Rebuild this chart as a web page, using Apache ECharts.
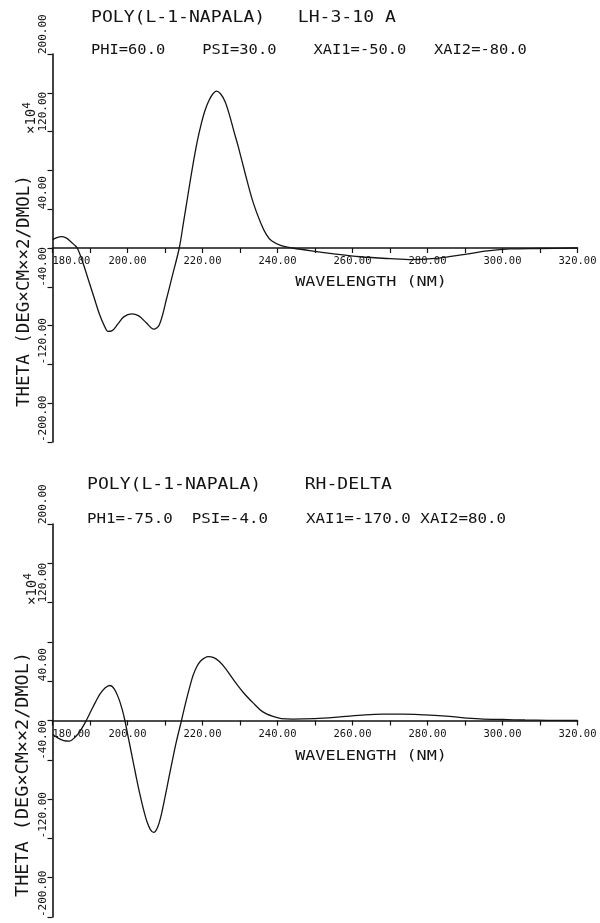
<!DOCTYPE html>
<html>
<head>
<meta charset="utf-8">
<script src="https://cdn.jsdelivr.net/npm/echarts@6/dist/echarts.min.js"></script>
<style>
  html, body { margin: 0; padding: 0; background: #ffffff; }
  #chart { width: 600px; height: 923px; }
</style>
</head>
<body>
<div id="chart"></div>
<script>
// Computed CD spectra, mean residue ellipticity (x10^4) against wavelength (nm)

// Upper panel: left-handed 3-10 helix
const upperWavelength = [180.0, 181.2, 182.4, 183.6, 184.6, 185.6, 186.6, 188.0, 189.5, 191.0,
  192.5, 193.8, 194.8, 195.8, 197.5, 199.0, 201.1, 203.0, 205.0, 207.0,
  208.5, 210.4, 212.0, 213.8, 215.0, 216.3, 217.5, 218.6, 219.6, 220.6,
  221.6, 222.6, 223.7, 224.8, 226.0, 227.2, 228.4, 229.5, 231.5, 233.5,
  235.5, 237.0, 238.4, 241.0, 244.0, 249.0, 255.0, 262.0, 270.0, 276.0,
  283.0, 290.0, 296.0, 302.0, 310.0, 320.0];
const upperTheta = [8.5, 10.8, 11.7, 10.5, 7.6, 4.0, 0.0, -14.0, -32.0, -50.0,
  -68.0, -80.0, -86.0, -85.5, -78.0, -71.0, -68.0, -70.0, -77.0, -83.6,
  -79.0, -52.6, -28.0, 0.0, 28.0, 59.0, 87.0, 110.0, 127.0, 141.0,
  151.0, 158.0, 161.7, 159.0, 151.0, 137.0, 120.0, 105.0, 75.0, 47.0,
  26.0, 14.0, 7.5, 2.5, 0.0, -3.0, -6.0, -9.0, -11.0, -12.0,
  -10.5, -6.5, -3.0, -1.0, -0.5, 0.0];

// Lower panel: right-handed delta structure
const lowerWavelength = [180.0, 181.5, 183.0, 184.5, 186.0, 187.5, 189.0, 190.3, 191.5, 192.7,
  194.0, 195.3, 196.5, 197.7, 198.6, 199.3, 200.3, 201.3, 202.3, 203.3,
  204.3, 205.2, 206.1, 207.0, 208.0, 209.0, 210.0, 211.0, 212.0, 213.0,
  214.4, 215.5, 216.8, 217.5, 218.5, 219.5, 220.5, 221.5, 223.0, 224.5,
  226.0, 228.2, 231.0, 233.5, 236.0, 238.8, 241.0, 244.0, 250.0, 256.0,
  263.4, 268.0, 273.6, 279.0, 283.9, 289.0, 294.0, 300.0, 306.0, 312.0,
  320.0];
const lowerTheta = [-14.0, -18.0, -20.5, -21.0, -17.0, -10.0, 0.0, 10.0, 19.0, 27.0,
  33.0, 35.6, 32.0, 22.0, 11.0, 0.0, -19.0, -38.0, -57.0, -75.0,
  -91.0, -103.0, -111.0, -113.9, -109.0, -96.0, -78.0, -59.0, -40.0, -22.0,
  0.0, 18.0, 37.0, 46.0, 55.0, 60.5, 63.5, 65.0, 64.0, 60.0,
  53.5, 41.8, 28.0, 17.9, 9.0, 4.1, 2.0, 1.5, 2.0, 3.5,
  5.8, 6.5, 6.5, 5.8, 4.8, 3.0, 1.7, 1.0, 0.5, 0.2,
  0.0];

// Axis ranges and tick steps
const wavelengthRange = [180, 320];
const wavelengthStep = 10;
const wavelengthLabelStep = 20;
const thetaRange = [-200, 200];
const thetaStep = 40;
const thetaLabelStep = 80;

// Panel headings and axis titles
const upperTitle = 'POLY(L-1-NAPALA)   LH-3-10 A';
const upperParams = 'PHI=60.0    PSI=30.0    XAI1=-50.0   XAI2=-80.0';
const lowerTitle = 'POLY(L-1-NAPALA)    RH-DELTA';
const lowerParams = 'PH1=-75.0  PSI=-4.0    XAI1=-170.0 XAI2=80.0';
const thetaName = 'THETA (DEG\u00d7CM\u00d7\u00d72/DMOL)';
const wavelengthName = 'WAVELENGTH (NM)';

const INK = '#141414';
const MONO = '"DejaVu Sans Mono", "Liberation Mono", monospace';

const grids = [
  { left: 52.5, top: 54, width: 525, height: 388 },
  { left: 52.5, top: 524, width: 525, height: 393 }
];

function pairs(xs, ys) {
  return xs.map((x, i) => [x, ys[i]]);
}

// x axis sits on theta = 0, i.e. halfway up each panel
function makeX(gridIndex) {
  const g = grids[gridIndex];
  const zeroFromBottom = g.height * (0 - thetaRange[0]) / (thetaRange[1] - thetaRange[0]);
  return {
    type: 'value', gridIndex, position: 'bottom', offset: -zeroFromBottom,
    min: wavelengthRange[0], max: wavelengthRange[1], interval: wavelengthStep,
    axisLine: { show: true, onZero: false, lineStyle: { color: INK, width: 1.6 } },
    axisTick: { show: true, inside: false, length: 5, lineStyle: { color: INK, width: 1.2 } },
    splitLine: { show: false },
    axisLabel: {
      show: true, margin: 8, color: INK, fontFamily: MONO, fontSize: 10.5,
      alignMinLabel: 'left',
      formatter: v => ((v - wavelengthRange[0]) % wavelengthLabelStep === 0 ? v.toFixed(2) : '')
    }
  };
}

function makeY(gridIndex) {
  return {
    type: 'value', gridIndex,
    min: thetaRange[0], max: thetaRange[1], interval: thetaStep,
    axisLine: { show: true, onZero: false, lineStyle: { color: INK, width: 1.6 } },
    axisTick: { show: true, inside: false, length: 5, lineStyle: { color: INK, width: 1.2 } },
    splitLine: { show: false },
    axisLabel: {
      show: true, margin: 3.5, rotate: 90, align: 'left', verticalAlign: 'bottom',
      color: INK, fontFamily: MONO, fontSize: 11,
      formatter: v => ((v - thetaRange[0]) % thetaLabelStep === 0 ? v.toFixed(2) : '')
    }
  };
}

// Horizontal text; the plotter lettering is a little wider than the font, hence scaleX
function headingText(x, y, text, size, stretch, align) {
  return {
    type: 'text', x, y, scaleX: stretch, silent: true,
    style: { text, fill: INK, font: size + 'px ' + MONO, textAlign: align || 'left', textVerticalAlign: 'middle' }
  };
}

function thetaLabel(x, y, size) {
  return {
    type: 'text', x, y, rotation: Math.PI / 2, silent: true,
    style: {
      text: thetaName, fill: INK, font: size + 'px ' + MONO,
      textAlign: 'left', textVerticalAlign: 'middle'
    }
  };
}

function scaleLabel(x, y) {
  return {
    type: 'text', x, y, rotation: Math.PI / 2, silent: true,
    style: {
      text: '\u00d710{s|4}', fill: INK, font: '14px ' + MONO,
      textAlign: 'left', textVerticalAlign: 'middle',
      rich: { s: { fontSize: 11, fontFamily: MONO, verticalAlign: 'top', padding: [0, 0, 8, 0], fill: INK } }
    }
  };
}

const chart = echarts.init(document.getElementById('chart'), null, { renderer: 'canvas' });

chart.setOption({
  backgroundColor: '#ffffff',
  animation: false,
  grid: grids,
  xAxis: [makeX(0), makeX(1)],
  yAxis: [makeY(0), makeY(1)],
  series: [
    {
      type: 'line', xAxisIndex: 0, yAxisIndex: 0,
      data: pairs(upperWavelength, upperTheta),
      showSymbol: false, smooth: 0.35,
      lineStyle: { color: INK, width: 1.3 }
    },
    {
      type: 'line', xAxisIndex: 1, yAxisIndex: 1,
      data: pairs(lowerWavelength, lowerTheta),
      showSymbol: false, smooth: 0.35,
      lineStyle: { color: INK, width: 1.3 }
    }
  ],
  graphic: [
    headingText(91, 18, upperTitle, 16, 1.13),
    headingText(91, 50, upperParams, 14, 1.1),
    headingText(87, 485, lowerTitle, 16, 1.13),
    headingText(87, 519, lowerParams, 14, 1.13),
    thetaLabel(24, 407, 17.5),
    scaleLabel(31, 134),
    thetaLabel(23, 897, 18.5),
    scaleLabel(32, 605),
    headingText(371, 282, wavelengthName, 14, 1.2, 'center'),
    headingText(371, 756, wavelengthName, 14, 1.2, 'center')
  ]
});
</script>
</body>
</html>
